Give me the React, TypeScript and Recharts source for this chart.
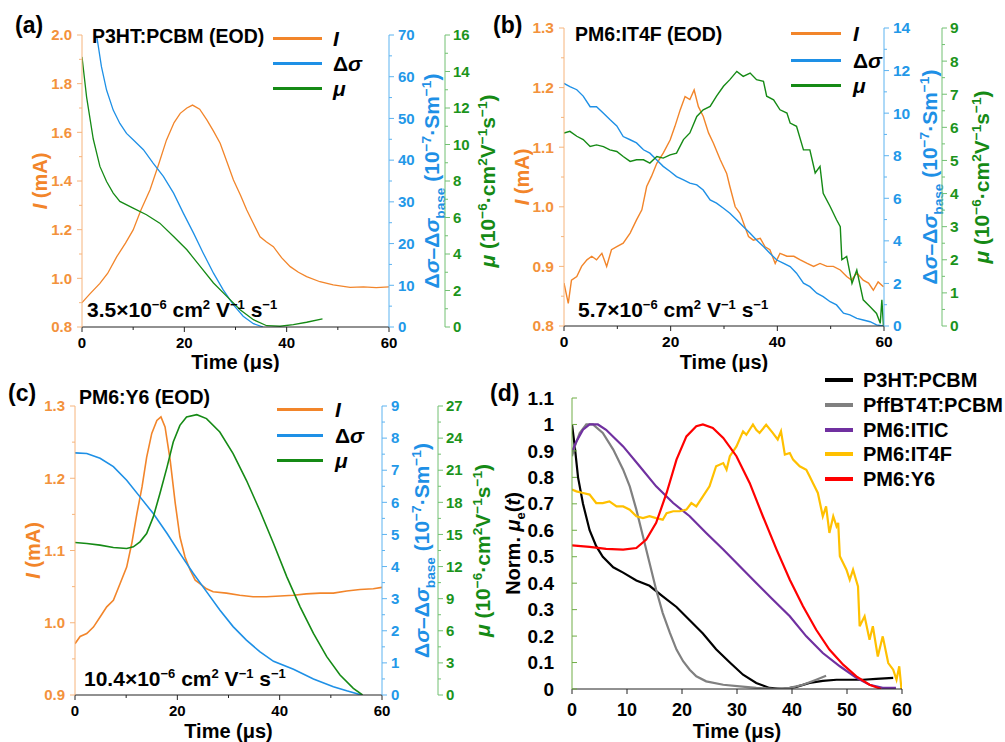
import React from 'react';
import { LineChart, Line, XAxis, YAxis } from 'recharts';

const FONT = '"Liberation Sans", Arial, Helvetica, sans-serif';

const OR = '#F2852A';
const OR_AX = '#F6B47C';
const OR_TX = '#F3923C';
const BL = '#1E90E6';
const BL_AX = '#5DB3F0';
const BL_TX = '#2398E8';
const GR = '#158A15';
const GR_AX = '#72C072';
const GR_TX = '#1C941C';
const D_AX = '#70AD47';

// ---- panel (a) P3HT:PCBM ----
const A_I_T = [0, 1.5, 3.5, 5, 6.8, 8.5, 10, 11.5, 13.3, 15, 16.5, 18, 19.2, 20.5, 21.6, 23, 24.4, 25.7, 27, 28.3, 29.6, 31, 32.2, 33.5, 34.8, 36, 37.4, 39, 40.7, 42.3, 43.9, 46.5, 49.1, 52.4, 55, 57.5, 60];
const A_I_V = [0.9, 0.935, 0.979, 1.02, 1.089, 1.145, 1.199, 1.28, 1.364, 1.47, 1.568, 1.64, 1.678, 1.7, 1.712, 1.695, 1.651, 1.605, 1.555, 1.48, 1.404, 1.34, 1.281, 1.225, 1.171, 1.15, 1.13, 1.085, 1.048, 1.025, 1.007, 0.986, 0.973, 0.963, 0.965, 0.962, 0.965];
const A_S_T = [2.9, 3.8, 4.8, 6.1, 7.4, 8.7, 10, 12, 13.9, 15.9, 17.9, 19.8, 21.8, 23.7, 25.7, 27.6, 29.6, 31.5, 33.5, 35.4];
const A_S_V = [69.6, 62.4, 56.8, 52.0, 48.8, 46.4, 44.9, 42.5, 39.3, 36.1, 32.1, 27.3, 22.5, 17.7, 12.9, 8.9, 5.3, 2.6, 0.8, 0];
const A_M_T = [0, 0.9, 2.2, 3.5, 4.8, 6.1, 7.4, 10, 12.6, 15.2, 17.9, 20.5, 23.1, 25.7, 28.3, 30.9, 33.5, 36.1, 38.7, 41.3, 43.9, 47];
const A_M_V = [14.8, 12.6, 10.3, 8.8, 7.97, 7.34, 6.88, 6.51, 6.15, 5.69, 4.96, 4.23, 3.32, 2.41, 1.68, 0.95, 0.4, 0.07, 0.04, 0.13, 0.26, 0.44];

// ---- panel (b) PM6:IT4F ----
const B_I_T = [0, 0.8, 1.4, 2.4, 3.3, 4.3, 5.2, 6.1, 7.1, 8, 8.9, 9.9, 11.1, 12.4, 13.6, 14.6, 15.5, 16.4, 17.4, 18.6, 19.9, 20.8, 21.8, 22.7, 23.6, 24.4, 25.2, 26.1, 27.1, 28, 29.3, 30.5, 31.1, 32.1, 33, 33.9, 34.6, 35.5, 36.8, 37.7, 38.6, 39.6, 40.5, 41.8, 43.1, 44.3, 45.6, 46.8, 48, 49.3, 50.5, 51.8, 53, 53.9, 54.9, 56.1, 57.1, 58, 58.9, 59.9];
const B_I_V = [0.872, 0.838, 0.877, 0.883, 0.9, 0.911, 0.917, 0.911, 0.922, 0.9, 0.928, 0.933, 0.939, 0.956, 0.978, 0.995, 1.034, 1.051, 1.073, 1.09, 1.112, 1.135, 1.163, 1.185, 1.18, 1.196, 1.168, 1.152, 1.124, 1.107, 1.079, 1.056, 1.034, 1.0, 0.989, 0.967, 0.95, 0.944, 0.947, 0.933, 0.928, 0.905, 0.922, 0.917, 0.917, 0.911, 0.905, 0.9, 0.905, 0.9, 0.9, 0.894, 0.883, 0.877, 0.889, 0.877, 0.872, 0.86, 0.874, 0.866];
const B_S_T = [0, 1.1, 2.4, 3.6, 4.9, 6.1, 7.4, 8.6, 9.9, 11.1, 12.4, 13.6, 14.9, 16.1, 17.4, 18.6, 19.9, 21.1, 22.4, 23.6, 24.9, 26.1, 27.4, 28.6, 29.9, 31.1, 32.4, 33.6, 34.9, 36.1, 37.4, 38.6, 39.9, 41.1, 42.4, 43.6, 44.9, 46.1, 47.4, 48.6, 49.9, 51.1, 52.4, 53.6, 54.9, 56.1, 57.4, 58.6, 59.9];
const B_S_V = [11.4, 11.25, 11.1, 10.8, 10.3, 10.3, 10.0, 9.7, 9.4, 8.9, 8.75, 8.6, 8.28, 8.12, 7.8, 7.5, 7.26, 7.02, 6.87, 6.71, 6.63, 6.39, 5.92, 5.77, 5.53, 5.3, 4.98, 4.67, 4.36, 4.04, 3.73, 3.42, 3.1, 2.95, 2.79, 2.48, 2.01, 1.85, 1.54, 1.38, 1.14, 0.99, 0.6, 0.52, 0.36, 0.28, 0.2, 0.05, 0];
const B_M_T = [0, 1.1, 2.4, 3.6, 4.9, 6.1, 7.4, 8.6, 9.9, 11.1, 12.4, 13.6, 14.9, 16.1, 17.4, 18.6, 19.9, 21.1, 22.4, 23.6, 24.9, 26.1, 27.4, 28.6, 29.9, 31.1, 32.4, 33.6, 34.9, 36.1, 37.4, 38, 39.3, 40.5, 41.8, 42.4, 43.6, 44.9, 46.1, 47.1, 48, 48.6, 49.9, 51.1, 51.8, 52.1, 53, 54, 54.9, 56.1, 57.4, 58.6, 59.3, 59.6, 59.9];
const B_M_V = [5.83, 5.88, 5.73, 5.63, 5.42, 5.47, 5.42, 5.32, 5.27, 5.12, 4.97, 5.02, 5.02, 4.92, 5.12, 5.07, 5.17, 5.22, 5.63, 5.83, 6.33, 6.53, 6.63, 6.94, 7.24, 7.44, 7.69, 7.54, 7.64, 7.44, 7.39, 6.94, 6.83, 6.53, 6.43, 6.13, 6.03, 5.32, 5.32, 4.62, 4.82, 4.01, 3.61, 3.21, 3.0, 2.0, 2.1, 1.29, 1.69, 0.79, 0.58, 0.38, 0.08, 0.79, 0];

// ---- panel (c) PM6:Y6 ----
const C_I_T = [0, 1, 2.3, 3.6, 4.9, 6.2, 7.5, 8.8, 10.1, 11.1, 12.1, 13.1, 14, 15, 16, 16.8, 17.6, 18.6, 19.6, 20.5, 21.5, 22.5, 23.5, 24.4, 25.7, 27, 29.6, 32.2, 34.8, 37.4, 40.1, 42.7, 45.2, 47.9, 50.5, 53.1, 55.7, 58.3, 60];
const C_I_V = [0.971, 0.981, 0.985, 0.994, 1.008, 1.022, 1.031, 1.054, 1.077, 1.11, 1.151, 1.188, 1.229, 1.262, 1.28, 1.285, 1.271, 1.225, 1.165, 1.119, 1.091, 1.073, 1.059, 1.054, 1.047, 1.043, 1.041, 1.038, 1.036, 1.036, 1.037, 1.038, 1.04, 1.041, 1.041, 1.044, 1.046, 1.047, 1.049];
const C_S_T = [0, 2.3, 4.9, 7.5, 10.1, 12.7, 15.3, 18, 20.5, 23.1, 25.7, 28.3, 30.9, 33.5, 36.1, 38.8, 42.7, 46.6, 50.5, 53.1, 56];
const C_S_V = [7.54, 7.52, 7.37, 7.11, 6.69, 6.17, 5.65, 5.03, 4.41, 3.79, 3.22, 2.65, 2.13, 1.71, 1.35, 1.05, 0.8, 0.5, 0.26, 0.13, 0];
const C_M_T = [0, 2.3, 4.9, 7.5, 10.1, 11.4, 12.7, 14, 15.3, 16.6, 18, 19.2, 20.5, 21.8, 23.8, 25.7, 28.3, 30.9, 33.5, 36.1, 38.8, 41.4, 44, 46.6, 49.2, 51.8, 54.4, 56.2];
const C_M_V = [14.25, 14.15, 14.0, 13.78, 13.69, 13.84, 14.31, 15.09, 16.64, 18.82, 21.31, 23.64, 25.19, 25.97, 26.19, 25.82, 24.57, 22.55, 20.06, 17.26, 14.15, 11.04, 8.24, 5.75, 3.58, 1.87, 0.62, 0];

// ---- panel (d) normalised mobility ----
const D_NAMES = ['P3HT:PCBM', 'PffBT4T:PCBM', 'PM6:ITIC', 'PM6:IT4F', 'PM6:Y6'];
const D_COLORS = ['#000000', '#808080', '#7030A0', '#FFC000', '#FF0000'];
const D_K_T = [0, 0.5, 1.1, 2, 3.2, 4.4, 5.6, 7.5, 9.3, 11.7, 14.1, 16.5, 19, 21.4, 23.8, 26.2, 28.7, 31.1, 33.5, 35.9, 38.4, 40.8, 43.2, 45.6, 48.1, 50.5, 52.9, 55.3, 58.4];
const D_K_V = [1.0, 0.917, 0.8, 0.7, 0.6, 0.54, 0.5, 0.46, 0.44, 0.41, 0.39, 0.35, 0.31, 0.26, 0.21, 0.15, 0.1, 0.054, 0.023, 0.004, 0, 0.008, 0.023, 0.031, 0.035, 0.035, 0.035, 0.038, 0.042];
const D_G_T = [0, 0.5, 1.4, 2.6, 3.8, 5.6, 7.5, 9.3, 10.5, 11.7, 12.9, 14.1, 15.3, 16.5, 17.8, 19, 20.2, 21.4, 22.6, 24.4, 27.5, 30.5, 33.5, 36.5, 39.6, 42, 44.4, 46.2];
const D_G_V = [0.88, 0.917, 0.968, 1.0, 1.0, 0.968, 0.905, 0.829, 0.766, 0.678, 0.577, 0.476, 0.375, 0.287, 0.212, 0.149, 0.105, 0.073, 0.048, 0.029, 0.016, 0.01, 0.004, 0.001, 0.004, 0.016, 0.035, 0.05];
const D_P_T = [0, 0.8, 2, 3.2, 4.7, 6.2, 9.3, 12.3, 15.3, 18.4, 21.4, 24.4, 27.5, 30.5, 33.5, 36.5, 39.6, 42.6, 45.6, 48.7, 51.7, 54.1, 56.5, 57.8, 58.9];
const D_P_V = [0.898, 0.936, 0.98, 1.0, 1.0, 0.98, 0.917, 0.842, 0.766, 0.703, 0.653, 0.59, 0.527, 0.464, 0.401, 0.338, 0.275, 0.199, 0.136, 0.086, 0.042, 0.016, 0.004, 0.004, 0.004];
const D_Y_T = [0, 0.8, 2, 3.2, 4.4, 5.6, 6.8, 8.1, 9.3, 10.5, 11.7, 12.9, 14.1, 15.3, 16.5, 17.2, 18.4, 19.6, 20.8, 21.7, 22.6, 23.8, 25, 26.2, 27.5, 28.1, 28.7, 29.9, 31.1, 31.7, 32.9, 33.5, 34.1, 35.3, 36.5, 37.4, 38, 38.7, 39.6, 40.2, 41.4, 42.6, 43.2, 43.8, 44.7, 45.6, 46.2, 46.8, 47.5, 48.1, 48.4, 48.7, 49.9, 50.5, 51.1, 52, 52.3, 53.2, 54.1, 54.7, 55.6, 56.5, 57.5, 58.4, 59, 59.5, 59.9];
const D_Y_V = [0.754, 0.747, 0.741, 0.735, 0.703, 0.703, 0.709, 0.69, 0.69, 0.678, 0.653, 0.646, 0.653, 0.646, 0.64, 0.665, 0.672, 0.672, 0.678, 0.703, 0.69, 0.728, 0.766, 0.842, 0.854, 0.829, 0.88, 0.917, 0.974, 0.961, 1.0, 0.98, 0.968, 0.999, 0.968, 0.943, 0.974, 0.886, 0.892, 0.867, 0.842, 0.829, 0.804, 0.779, 0.741, 0.653, 0.69, 0.59, 0.653, 0.615, 0.628, 0.502, 0.451, 0.413, 0.451, 0.388, 0.237, 0.275, 0.186, 0.237, 0.123, 0.199, 0.098, 0.073, 0.035, 0.086, 0];
const D_R_T = [0, 3.2, 6.2, 9.3, 11.7, 13.5, 15.3, 17.2, 19, 20.8, 22.6, 23.8, 25.6, 27.5, 29.9, 32.3, 34.7, 37.2, 39.6, 42, 44.4, 46.8, 49.3, 51.7, 54.1, 56.2];
const D_R_V = [0.543, 0.537, 0.53, 0.527, 0.533, 0.565, 0.628, 0.741, 0.867, 0.955, 0.993, 1.0, 0.987, 0.949, 0.88, 0.779, 0.653, 0.527, 0.413, 0.313, 0.224, 0.149, 0.092, 0.048, 0.016, 0];

const zip = (ts: number[], vs: number[]) =>
  ts.slice(0, Math.min(ts.length, vs.length)).map((t, i) => ({ t, v: vs[i] }));

const steps = (a: number, b: number, s: number) => {
  const out: number[] = [];
  const n = Math.round((b - a) / s);
  for (let i = 0; i <= n; i++) out.push(+(a + i * s).toFixed(4));
  return out;
};

type Seg = { t: string; i?: boolean; sub?: boolean; sup?: boolean };

function svgRich(segs: Seg[], size: number) {
  let shift = 0;
  return segs.map((s, k) => {
    const target = s.sup ? -size * 0.4 : s.sub ? size * 0.25 : 0;
    const dy = target - shift;
    shift = target;
    return (
      <tspan key={k} dy={dy} fontSize={s.sup || s.sub ? size * 0.65 : size} fontStyle={s.i ? 'italic' : 'normal'}>
        {s.t}
      </tspan>
    );
  });
}

type TickOpt = {
  side: 'left' | 'right' | 'bottom';
  major: number;
  digits?: number;
  line: string;
  text: string;
  size: number;
  gap: number;
  inward?: boolean;
};

const makeTick = (o: TickOpt) => (p: any) => {
  const v = Number(p.payload.value);
  const isMaj = Math.abs(v / o.major - Math.round(v / o.major)) < 1e-6;
  const len = isMaj ? 5 : 3;
  const label = isMaj ? (o.digits != null ? v.toFixed(o.digits) : String(+v.toFixed(3))) : '';
  const { x, y } = p;
  if (o.side === 'bottom') {
    return (
      <g>
        <line x1={x} y1={y} x2={x} y2={y + len} stroke={o.line} />
        {label && (
          <text x={x} y={y + o.gap + o.size * 0.35} textAnchor="middle" fill={o.text} fontSize={o.size} fontWeight={700} fontFamily={FONT}>
            {label}
          </text>
        )}
      </g>
    );
  }
  const dir = (o.side === 'left' ? -1 : 1) * (o.inward ? -1 : 1);
  const tx = o.side === 'left' ? x - o.gap : x + o.gap;
  return (
    <g>
      <line x1={x} y1={y} x2={x + dir * len} y2={y} stroke={o.line} />
      {label && (
        <text x={tx} y={y + o.size * 0.35} textAnchor={o.side === 'left' ? 'end' : 'start'} fill={o.text} fontSize={o.size} fontWeight={700} fontFamily={FONT}>
          {label}
        </text>
      )}
    </g>
  );
};

const vLabel = (segs: Seg[], color: string, size: number, dx: number) => (props: any) => {
  const vb = props.viewBox || { x: 0, y: 0, width: 0, height: 0 };
  const cx = vb.x + dx;
  const cy = vb.y + vb.height / 2;
  return (
    <text x={cx} y={cy + size * 0.35} transform={`rotate(-90 ${cx} ${cy})`} textAnchor="middle" fill={color} fontWeight={700} fontFamily={FONT}>
      {svgRich(segs, size)}
    </text>
  );
};

const hLabel = (text: string, size: number, dy: number) => (props: any) => {
  const vb = props.viewBox || { x: 0, y: 0, width: 0, height: 0 };
  const cx = vb.x + vb.width / 2;
  return (
    <text x={cx} y={vb.y + dy + size * 0.35} textAnchor="middle" fill="#000" fontSize={size} fontWeight={700} fontFamily={FONT}>
      {text}
    </text>
  );
};

type AxisCfg = {
  id: string;
  domain: [number, number];
  step: number;
  major: number;
  digits?: number;
  line: string;
  text: string;
  width: number;
  gap: number;
  label: Seg[];
  labelColor: string;
  labelSize: number;
  labelDx: number;
  inward?: boolean;
};

type Series = { axis: string; data: { t: number; v: number }[]; color: string };

type PanelProps = {
  left: number;
  top: number;
  width: number;
  height: number;
  mTop: number;
  mRight: number;
  xHeight: number;
  xMajor: number;
  xStep: number;
  xGap: number;
  xLabelDy: number;
  tickSize: number;
  xTickSize?: number;
  axes: AxisCfg[];
  series: Series[];
  lw: number;
};

// first axis is the left one. right axes get stacked in id order,
// so 'r1' (blue) sits on the plot edge and 'r2' (green) outside it
function Panel(p: PanelProps) {
  return (
    <div style={{ position: 'absolute', left: p.left, top: p.top }}>
      <LineChart width={p.width} height={p.height} margin={{ top: p.mTop, right: p.mRight, bottom: 0, left: 0 }}>
        <XAxis
          type="number"
          dataKey="t"
          domain={[0, 60]}
          ticks={steps(0, 60, p.xStep)}
          interval={0}
          height={p.xHeight}
          allowDataOverflow
          tickLine={false}
          tickSize={0}
          tickMargin={0}
          axisLine={{ stroke: '#222' }}
          tick={makeTick({ side: 'bottom', major: p.xMajor, line: '#222', text: '#000', size: p.xTickSize ?? p.tickSize, gap: p.xGap })}
          label={hLabel('Time (μs)', 20, p.xLabelDy)}
        />
        {p.axes.map((a, i) => (
          <YAxis
            key={a.id}
            yAxisId={a.id}
            orientation={i === 0 ? 'left' : 'right'}
            type="number"
            width={a.width}
            domain={a.domain}
            ticks={steps(a.domain[0], a.domain[1], a.step)}
            interval={0}
            allowDataOverflow
            tickLine={false}
            tickSize={0}
            tickMargin={0}
            axisLine={{ stroke: a.line }}
            tick={makeTick({ side: i === 0 ? 'left' : 'right', major: a.major, digits: a.digits, line: a.line, text: a.text, size: p.tickSize, gap: a.gap, inward: a.inward })}
            label={vLabel(a.label, a.labelColor, a.labelSize, a.labelDx)}
          />
        ))}
        {p.series.map((s, i) => (
          <Line
            key={i}
            yAxisId={s.axis}
            data={s.data}
            dataKey="v"
            type="linear"
            stroke={s.color}
            strokeWidth={p.lw}
            dot={false}
            activeDot={false}
            isAnimationActive={false}
          />
        ))}
      </LineChart>
    </div>
  );
}

const I_LABEL: Seg[] = [{ t: 'I', i: true }, { t: ' (mA)' }];
const S_LABEL: Seg[] = [
  { t: 'Δ' }, { t: 'σ', i: true }, { t: '–Δ' }, { t: 'σ', i: true }, { t: 'base', sub: true },
  { t: ' (10' }, { t: '−7', sup: true }, { t: '·Sm' }, { t: '−1', sup: true }, { t: ')' },
];
const M_LABEL: Seg[] = [
  { t: 'μ', i: true }, { t: ' (10' }, { t: '−6', sup: true }, { t: '·cm' }, { t: '2', sup: true },
  { t: 'V' }, { t: '−1', sup: true }, { t: 's' }, { t: '−1', sup: true }, { t: ')' },
];
const D_LABEL: Seg[] = [{ t: 'Norm. ' }, { t: 'μ', i: true }, { t: 'e', sub: true }, { t: '(' }, { t: 't', i: true }, { t: ')' }];

function Txt({ x, cy, size, children, italic }: { x: number; cy: number; size: number; children: React.ReactNode; italic?: boolean }) {
  return (
    <div
      style={{
        position: 'absolute',
        left: x,
        top: cy,
        transform: 'translateY(-50%)',
        fontSize: size,
        lineHeight: 1,
        fontWeight: 700,
        fontStyle: italic ? 'italic' : 'normal',
        whiteSpace: 'nowrap',
        color: '#000',
      }}
    >
      {children}
    </div>
  );
}

const supStyle: React.CSSProperties = { fontSize: '0.62em', verticalAlign: '0.6em', lineHeight: 0 };

function Mobility({ x, cy, value }: { x: number; cy: number; value: string }) {
  return (
    <Txt x={x} cy={cy} size={21}>
      {value}×10<span style={supStyle}>−6</span> cm<span style={supStyle}>2</span> V<span style={supStyle}>−1</span> s
      <span style={supStyle}>−1</span>
    </Txt>
  );
}

function Key({ x1, x2, y, lx, color, thick, size, children, italic }: { x1: number; x2: number; y: number; lx: number; color: string; thick: number; size: number; children: React.ReactNode; italic?: boolean }) {
  return (
    <>
      <div style={{ position: 'absolute', left: x1, top: y - thick / 2, width: x2 - x1, height: thick, background: color }} />
      <Txt x={lx} cy={y} size={size} italic={italic}>
        {children}
      </Txt>
    </>
  );
}

function TriLegend({ x1, x2, lx, ys }: { x1: number; x2: number; lx: number; ys: number[] }) {
  const cols = [OR, BL, GR];
  const labels = ['I', 'Δσ', 'μ'];
  return (
    <>
      {labels.map((l, i) => (
        <Key key={l} x1={x1} x2={x2} y={ys[i]} lx={lx} color={cols[i]} thick={3} size={21}>
          {i === 1 ? (
            <>
              Δ<i>σ</i>
            </>
          ) : (
            <i>{l}</i>
          )}
        </Key>
      ))}
    </>
  );
}

const mkAxes = (
  iDom: [number, number], iStep: number, iMaj: number, iW: number, iDx: number,
  sMax: number, sStep: number, sMaj: number, sW: number, sDx: number,
  mMax: number, mStep: number, mMaj: number, mW: number, mDx: number,
): AxisCfg[] => [
  { id: 'I', domain: iDom, step: iStep, major: iMaj, digits: 1, line: OR_AX, text: OR_TX, width: iW, gap: 10, label: I_LABEL, labelColor: OR, labelSize: 20, labelDx: iDx },
  { id: 'r1', domain: [0, sMax], step: sStep, major: sMaj, line: BL_AX, text: BL_TX, width: sW, gap: 9, label: S_LABEL, labelColor: BL, labelSize: 21, labelDx: sDx },
  { id: 'r2', domain: [0, mMax], step: mStep, major: mMaj, line: GR_AX, text: GR_TX, width: mW, gap: 8, label: M_LABEL, labelColor: GR, labelSize: 21, labelDx: mDx },
];

export default function App() {
  const tri = (iT: number[], iV: number[], sT: number[], sV: number[], mT: number[], mV: number[]): Series[] => [
    { axis: 'I', data: zip(iT, iV), color: OR },
    { axis: 'r1', data: zip(sT, sV), color: BL },
    { axis: 'r2', data: zip(mT, mV), color: GR },
  ];
  const dSeries: Series[] = [
    [D_K_T, D_K_V], [D_G_T, D_G_V], [D_P_T, D_P_V], [D_Y_T, D_Y_V], [D_R_T, D_R_V],
  ].map(([t, v], i) => ({ axis: 'N', data: zip(t, v), color: D_COLORS[i] }));

  return (
    <div style={{ position: 'absolute', left: 0, top: 0, width: 1005, height: 742, background: '#fff', fontFamily: FONT, overflow: 'hidden' }}>
      <Panel
        left={0} top={0} width={510} height={372} mTop={35} mRight={0} xHeight={45}
        xMajor={20} xStep={10} xGap={16} xLabelDy={35} tickSize={15} lw={1.3}
        axes={mkAxes([0.8, 2.0], 0.1, 0.2, 82, 40, 70, 5, 10, 56, 43, 16, 1, 2, 65, 43)}
        series={tri(A_I_T, A_I_V, A_S_T, A_S_V, A_M_T, A_M_V)}
      />
      <Panel
        left={490} top={0} width={515} height={372} mTop={28} mRight={0} xHeight={46}
        xMajor={20} xStep={10} xGap={16} xLabelDy={36} tickSize={15.5} lw={1.4}
        axes={mkAxes([0.8, 1.3], 0.05, 0.1, 74, 32, 14, 1, 2, 58, 46, 9, 0.5, 1, 63, 40)}
        series={tri(B_I_T, B_I_V, B_S_T, B_S_V, B_M_T, B_M_V)}
      />
      <Panel
        left={0} top={372} width={510} height={370} mTop={34} mRight={0} xHeight={47}
        xMajor={20} xStep={10} xGap={16} xLabelDy={36} tickSize={15} lw={1.6}
        axes={mkAxes([0.9, 1.3], 0.05, 0.1, 75, 33, 9, 0.5, 1, 56, 40, 27, 1.5, 3, 72, 45)}
        series={tri(C_I_T, C_I_V, C_S_T, C_S_V, C_M_T, C_M_V)}
      />
      <Panel
        left={490} top={372} width={515} height={370} mTop={26} mRight={103} xHeight={53}
        xMajor={10} xStep={10} xGap={21} xLabelDy={42} tickSize={19} xTickSize={18} lw={2.2}
        axes={[
          { id: 'N', domain: [0, 1.1], step: 0.1, major: 0.1, line: D_AX, text: '#000', width: 82, gap: 18, label: D_LABEL, labelColor: '#000', labelSize: 20, labelDx: 23, inward: true },
        ]}
        series={dSeries}
      />

      {/* panel letters, titles, mobility values */}
      <Txt x={15} cy={25} size={23}>(a)</Txt>
      <Txt x={92} cy={37} size={19.5}>P3HT:PCBM (EOD)</Txt>
      <Mobility x={87} cy={309} value="3.5" />
      <Txt x={493} cy={25} size={23}>(b)</Txt>
      <Txt x={575} cy={35} size={19.5}>PM6:IT4F (EOD)</Txt>
      <Mobility x={578} cy={309} value="5.7" />
      <Txt x={8} cy={393} size={23}>(c)</Txt>
      <Txt x={79} cy={398} size={19.5}>PM6:Y6 (EOD)</Txt>
      <Mobility x={84} cy={678} value="10.4" />
      <Txt x={490} cy={393} size={23}>(d)</Txt>

      <TriLegend x1={273} x2={322} lx={333} ys={[38, 63, 88]} />
      <TriLegend x1={791} x2={841} lx={853} ys={[33, 60, 85]} />
      <TriLegend x1={277} x2={323} lx={335} ys={[409, 435, 460]} />

      {D_NAMES.map((n, i) => (
        <Key key={n} x1={825} x2={853} y={380 + i * 24.8} lx={863} color={D_COLORS[i]} thick={4} size={20}>
          {n}
        </Key>
      ))}
    </div>
  );
}
